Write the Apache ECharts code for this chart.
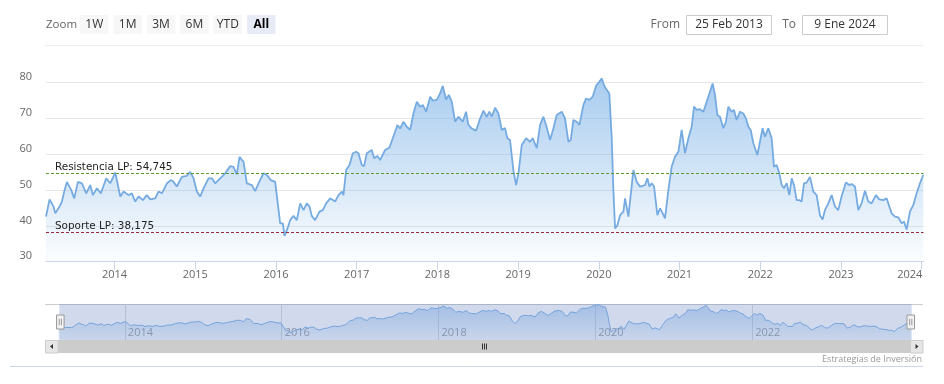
<!DOCTYPE html>
<html>
<head>
<meta charset="utf-8">
<script src="https://cdn.jsdelivr.net/npm/echarts/dist/echarts.min.js"></script>
<style>
  html, body { margin: 0; padding: 0; background: #ffffff; }
  #chart { width: 944px; height: 384px; }
</style>
</head>
<body>
<div id="chart"></div>
<script>
// ---- Data (dates as decimal years, prices) ----
const dates = [
  2013.151, 2013.195, 2013.245, 2013.266, 2013.319, 2013.348, 2013.377, 2013.410, 2013.464, 2013.501,
  2013.546, 2013.596, 2013.650, 2013.699, 2013.732, 2013.782, 2013.831, 2013.897, 2013.947, 2014.009,
  2014.071, 2014.112, 2014.174, 2014.215, 2014.256, 2014.298, 2014.351, 2014.401, 2014.442, 2014.504,
  2014.545, 2014.587, 2014.649, 2014.698, 2014.731, 2014.772, 2014.834, 2014.896, 2014.937, 2014.979,
  2015.020, 2015.061, 2015.103, 2015.164, 2015.206, 2015.247, 2015.309, 2015.371, 2015.433, 2015.474,
  2015.515, 2015.548, 2015.598, 2015.639, 2015.701, 2015.742, 2015.784, 2015.846, 2015.887, 2015.936,
  2015.990, 2016.052, 2016.085, 2016.106, 2016.143, 2016.176, 2016.217, 2016.258, 2016.300, 2016.341,
  2016.382, 2016.415, 2016.444, 2016.485, 2016.506, 2016.539, 2016.580, 2016.622, 2016.671, 2016.733,
  2016.774, 2016.816, 2016.836, 2016.869, 2016.911, 2016.952, 2016.993, 2017.022, 2017.063, 2017.092,
  2017.125, 2017.187, 2017.216, 2017.257, 2017.290, 2017.352, 2017.406, 2017.447, 2017.505, 2017.538,
  2017.579, 2017.621, 2017.662, 2017.703, 2017.745, 2017.786, 2017.819, 2017.860, 2017.910, 2017.943,
  2017.992, 2018.033, 2018.066, 2018.108, 2018.141, 2018.178, 2018.219, 2018.260, 2018.314, 2018.355,
  2018.384, 2018.426, 2018.479, 2018.529, 2018.570, 2018.611, 2018.644, 2018.673, 2018.715, 2018.756,
  2018.797, 2018.838, 2018.867, 2018.900, 2018.941, 2018.975, 2019.004, 2019.045, 2019.098, 2019.148,
  2019.181, 2019.231, 2019.272, 2019.313, 2019.346, 2019.396, 2019.437, 2019.478, 2019.540, 2019.581,
  2019.623, 2019.652, 2019.685, 2019.726, 2019.759, 2019.809, 2019.842, 2019.883, 2019.924, 2019.965,
  2020.007, 2020.036, 2020.064, 2020.097, 2020.130, 2020.159, 2020.180, 2020.201, 2020.230, 2020.263,
  2020.304, 2020.325, 2020.366, 2020.428, 2020.469, 2020.510, 2020.572, 2020.601, 2020.626, 2020.655,
  2020.684, 2020.725, 2020.758, 2020.791, 2020.820, 2020.861, 2020.902, 2020.943, 2020.985, 2021.026,
  2021.067, 2021.109, 2021.150, 2021.179, 2021.212, 2021.253, 2021.295, 2021.336, 2021.377, 2021.410,
  2021.439, 2021.468, 2021.501, 2021.542, 2021.575, 2021.604, 2021.645, 2021.674, 2021.707, 2021.749,
  2021.790, 2021.823, 2021.852, 2021.881, 2021.914, 2021.963, 2021.996, 2022.029, 2022.058, 2022.100,
  2022.141, 2022.170, 2022.203, 2022.236, 2022.265, 2022.293, 2022.327, 2022.360, 2022.389, 2022.418,
  2022.450, 2022.483, 2022.512, 2022.541, 2022.574, 2022.615, 2022.657, 2022.698, 2022.739, 2022.772,
  2022.801, 2022.843, 2022.884, 2022.925, 2022.966, 2023.007, 2023.061, 2023.103, 2023.132, 2023.173,
  2023.214, 2023.255, 2023.297, 2023.338, 2023.379, 2023.433, 2023.474, 2023.524, 2023.565, 2023.627,
  2023.668, 2023.709, 2023.751, 2023.780, 2023.813, 2023.854, 2023.895, 2023.937, 2023.978, 2024.020
];
const prices = [
  42.6, 47.4, 45.4, 43.5, 45.4, 46.8, 49.6, 52.3, 50.0, 47.7,
  52.3, 51.9, 49.1, 51.4, 48.6, 50.5, 49.1, 53.3, 51.9, 54.9,
  48.2, 49.6, 48.6, 49.1, 46.8, 48.2, 47.2, 48.6, 47.4, 47.7,
  49.6, 49.1, 51.9, 52.8, 52.3, 51.0, 53.7, 54.0, 55.1, 53.3,
  49.6, 48.2, 50.5, 53.3, 53.3, 51.9, 53.3, 54.7, 56.7, 56.5,
  54.4, 59.3, 57.9, 51.9, 51.4, 49.7, 51.9, 54.7, 54.2, 52.8,
  52.3, 40.7, 40.7, 37.2, 39.3, 41.6, 42.8, 41.6, 46.3, 44.4,
  46.3, 45.4, 42.8, 41.6, 41.2, 44.0, 44.4, 46.3, 47.7, 46.8,
  48.6, 49.6, 48.6, 55.6, 57.0, 60.3, 60.7, 60.3, 57.0, 56.7,
  60.3, 61.2, 58.9, 59.5, 58.4, 61.2, 61.9, 64.5, 68.2, 67.2,
  69.1, 67.7, 66.8, 71.4, 74.7, 73.3, 73.8, 71.9, 76.1, 75.0,
  75.2, 77.0, 79.1, 75.3, 76.6, 74.7, 69.1, 70.5, 69.1, 71.9,
  68.2, 67.2, 66.6, 70.0, 72.2, 70.5, 71.9, 70.5, 73.0, 71.4,
  66.8, 67.3, 64.5, 64.0, 55.6, 51.4, 54.7, 62.6, 64.5, 63.5,
  64.5, 61.7, 68.2, 70.5, 68.2, 64.0, 67.3, 71.0, 71.9, 70.0,
  63.5, 64.0, 69.6, 69.1, 68.2, 73.8, 75.6, 75.2, 76.1, 79.1,
  80.3, 81.2, 79.3, 78.0, 77.0, 64.9, 50.0, 39.3, 40.2, 43.0,
  44.0, 47.7, 42.6, 55.6, 52.3, 51.0, 51.4, 53.3, 51.0, 51.9,
  51.0, 43.0, 44.9, 43.5, 42.1, 50.0, 56.5, 59.3, 60.7, 66.8,
  60.3, 64.5, 67.7, 73.3, 72.4, 72.6, 71.9, 74.7, 77.5, 79.8,
  76.6, 71.0, 70.5, 67.3, 69.1, 73.3, 71.9, 72.4, 69.6, 71.9,
  71.4, 70.0, 67.7, 66.8, 63.1, 59.8, 63.5, 67.3, 64.9, 67.3,
  64.5, 56.5, 57.0, 54.7, 51.4, 50.5, 51.9, 48.6, 53.3, 51.4,
  47.2, 47.2, 46.8, 51.9, 52.1, 53.7, 49.6, 48.6, 43.0, 41.8,
  44.4, 46.3, 48.6, 45.4, 44.4, 48.2, 52.1, 51.4, 51.7, 51.0,
  44.4, 46.3, 49.8, 46.8, 46.3, 48.6, 47.4, 47.2, 47.7, 43.5,
  42.6, 42.4, 40.7, 41.2, 39.0, 44.0, 45.8, 49.1, 51.9, 54.3
];

const xStart = 2013.151;          // 25 Feb 2013
const xEnd = 2024.022;            // 9 Jan 2024
const yearTicks = [2014, 2015, 2016, 2017, 2018, 2019, 2020, 2021, 2022, 2023, 2024];
const navYearTicks = [2014, 2016, 2018, 2020, 2022];

const resistance = 54.745;
const support = 38.175;
const resistanceLabel = 'Resistencia LP: 54,745';
const supportLabel = 'Soporte LP: 38,175';

const zoomLabel = 'Zoom';
const rangeButtons = ['1W', '1M', '3M', '6M', 'YTD', 'All'];
const fromLabel = 'From';
const toLabel = 'To';
const fromValue = '25 Feb 2013';
const toValue = '9 Ene 2024';
const creditText = 'Estrategias de Inversión';

// ---- Chart ----
const FONT = "'Open Sans', 'DejaVu Sans', sans-serif";
const LABEL_FONT = "'DejaVu Sans', sans-serif";
const seriesData = dates.map((d, i) => [d, prices[i]]);
const lastYear = yearTicks[yearTicks.length - 1];

const chart = echarts.init(document.getElementById('chart'), null, { renderer: 'canvas' });

const graphics = [];
// Range selector
graphics.push({ type: 'text', x: 46, y: 24.5, style: { text: zoomLabel, fill: '#666666', font: "11.5px " + FONT, verticalAlign: 'middle' } });
rangeButtons.forEach((b, i) => {
  const x = 80 + i * 33.4;
  const active = b === 'All';
  graphics.push({ type: 'rect', shape: { x: x, y: 15, width: 28.5, height: 19, r: 1 },
    style: { fill: active ? '#e6ebf5' : '#f7f7f7' } });
  graphics.push({ type: 'text', x: x + 14.25, y: 24.5,
    style: { text: b, fill: active ? '#000000' : '#333333', font: (active ? 'bold ' : '') + "12px " + FONT,
             align: 'center', verticalAlign: 'middle' } });
});
// From / To inputs
graphics.push({ type: 'text', x: 680, y: 24.5, style: { text: fromLabel, fill: '#666666', font: "12px " + FONT, align: 'right', verticalAlign: 'middle' } });
graphics.push({ type: 'rect', shape: { x: 686.5, y: 15.5, width: 85, height: 19 }, style: { fill: '#ffffff', stroke: '#cccccc', lineWidth: 1 } });
graphics.push({ type: 'text', x: 729, y: 25, style: { text: fromValue, fill: '#333333', font: "12px " + FONT, align: 'center', verticalAlign: 'middle' } });
graphics.push({ type: 'text', x: 796, y: 24.5, style: { text: toLabel, fill: '#666666', font: "12px " + FONT, align: 'right', verticalAlign: 'middle' } });
graphics.push({ type: 'rect', shape: { x: 802.5, y: 15.5, width: 85, height: 19 }, style: { fill: '#ffffff', stroke: '#cccccc', lineWidth: 1 } });
graphics.push({ type: 'text', x: 845, y: 25, style: { text: toValue, fill: '#333333', font: "12px " + FONT, align: 'center', verticalAlign: 'middle' } });
// Separator under range selector
graphics.push({ type: 'line', shape: { x1: 45, y1: 45.5, x2: 923, y2: 45.5 }, style: { stroke: '#ececec', lineWidth: 1 } });
// Navigator outline (top)
graphics.push({ type: 'line', shape: { x1: 45, y1: 304.5, x2: 923, y2: 304.5 }, style: { stroke: '#cccccc', lineWidth: 1 } });
// Scrollbar
graphics.push({ type: 'rect', shape: { x: 45, y: 340, width: 878, height: 13 }, style: { fill: '#f2f2f2' } });
graphics.push({ type: 'rect', shape: { x: 58.3, y: 340, width: 852.4, height: 13 }, style: { fill: '#cccccc' } });
graphics.push({ type: 'rect', shape: { x: 45.5, y: 340.5, width: 12.5, height: 12.5 }, style: { fill: '#e6e6e6', stroke: '#cccccc', lineWidth: 1 } });
graphics.push({ type: 'polygon', shape: { points: [[50, 346.5], [53, 344], [53, 349]] }, style: { fill: '#333333' } });
graphics.push({ type: 'rect', shape: { x: 910.5, y: 340.5, width: 12.5, height: 12.5 }, style: { fill: '#e6e6e6', stroke: '#cccccc', lineWidth: 1 } });
graphics.push({ type: 'polygon', shape: { points: [[918.5, 346.5], [915.5, 344], [915.5, 349]] }, style: { fill: '#333333' } });
[-2, 0, 2].forEach(dx => {
  graphics.push({ type: 'line', shape: { x1: 484.5 + dx, y1: 343.5, x2: 484.5 + dx, y2: 349.5 }, style: { stroke: '#333333', lineWidth: 1 } });
});
// Credit + bottom rule
graphics.push({ type: 'text', x: 922, y: 359.5, style: { text: creditText, fill: '#999999', font: "9px " + FONT, align: 'right', verticalAlign: 'middle' } });
graphics.push({ type: 'line', shape: { x1: 10, y1: 366.5, x2: 923, y2: 366.5 }, style: { stroke: '#ccd6eb', lineWidth: 1 } });

const markLabel = (text) => ({
  show: true, formatter: text, position: 'insideStartTop',
  color: '#222222', fontSize: 10.4, fontFamily: LABEL_FONT, distance: [9, 1]
});

const option = {
  animation: false,
  backgroundColor: '#ffffff',
  textStyle: { fontFamily: FONT },
  grid: [
    { left: 46, right: 20.5, top: 64.8, height: 196.9, outerBoundsMode: 'none', containLabel: false },
    { left: 58.3, right: 33.3, top: 304, height: 36, outerBoundsMode: 'none', containLabel: false }
  ],
  xAxis: [
    {
      type: 'value', gridIndex: 0, min: xStart, max: xEnd,
      axisLine: { show: true, lineStyle: { color: '#ccd6eb', width: 1 } },
      axisTick: { show: true, customValues: yearTicks, length: 8, lineStyle: { color: '#ccd6eb' } },
      axisLabel: { show: true, customValues: yearTicks,
                   formatter: v => Math.round(v) === lastYear ? '{last|' + Math.round(v) + '}' : String(Math.round(v)),
                   rich: { last: { padding: [0, 24, 0, 0], color: '#666666', fontSize: 11, fontFamily: FONT } },
                   color: '#666666', fontSize: 11, fontFamily: FONT, margin: 8 },
      splitLine: { show: false }
    },
    {
      type: 'value', gridIndex: 1, min: xStart, max: xEnd,
      axisLine: { show: false },
      axisTick: { show: true, inside: true, customValues: navYearTicks, length: 36, lineStyle: { color: '#d8d8d8' } },
      axisLabel: { show: true, inside: true, customValues: navYearTicks, formatter: v => String(Math.round(v)),
                   color: '#999999', fontSize: 11, fontFamily: FONT, margin: 2, align: 'left', padding: [0, 0, 0, 3] },
      splitLine: { show: false }
    }
  ],
  yAxis: [
    {
      type: 'value', gridIndex: 0, min: 30, max: 85, interval: 10,
      axisLine: { show: false }, axisTick: { show: false },
      axisLabel: { color: '#666666', fontSize: 11, fontFamily: FONT, margin: 14, showMaxLabel: false,
                   verticalAlign: 'bottom' },
      splitLine: { show: true, showMaxLine: false, lineStyle: { color: '#e6e6e6', width: 1 } }
    },
    {
      type: 'value', gridIndex: 1, min: 26, max: 82, show: false,
      splitLine: { show: false }
    }
  ],
  dataZoom: [{
    type: 'slider', xAxisIndex: [0], filterMode: 'none', start: 0, end: 100,
    left: 58.3, right: 33.3, top: 304, height: 36,
    showDataShadow: false, showDetail: false, brushSelect: false,
    backgroundColor: 'rgba(0,0,0,0)', borderColor: 'rgba(0,0,0,0)',
    fillerColor: 'rgba(102,133,194,0.3)',
    handleIcon: 'path://M0.5,0.5 L7.5,0.5 L7.5,13.5 L0.5,13.5 Z M3,4 L3,10 M5,4 L5,10',
    handleSize: 14,
    handleStyle: { color: '#f2f2f2', borderColor: '#999999', borderWidth: 1 },
    moveHandleSize: 0,
    moveHandleStyle: { opacity: 0 },
    emphasis: { handleStyle: { borderColor: '#999999' }, moveHandleStyle: { opacity: 0 } }
  }],
  series: [
    {
      type: 'line', xAxisIndex: 0, yAxisIndex: 0, data: seriesData,
      showSymbol: false, symbol: 'none', smooth: false,
      lineStyle: { color: '#75abe0', width: 1.8 },
      itemStyle: { color: '#75abe0' },
      areaStyle: {
        color: new echarts.graphic.LinearGradient(0, 0, 0, 1, [
          { offset: 0, color: 'rgba(124,178,232,0.95)' },
          { offset: 1, color: 'rgba(124,178,232,0.04)' }
        ])
      },
      markLine: {
        silent: true, symbol: ['none', 'none'], animation: false,
        data: [
          { yAxis: resistance, lineStyle: { color: '#5b9a2e', type: [3, 2], width: 1 },
            label: markLabel(resistanceLabel) },
          { yAxis: support, lineStyle: { color: '#9a2a3a', type: [3, 2], width: 1 },
            label: markLabel(supportLabel) }
        ]
      }
    },
    {
      type: 'line', xAxisIndex: 1, yAxisIndex: 1, data: seriesData,
      showSymbol: false, symbol: 'none', silent: true,
      lineStyle: { color: '#7cb0e6', width: 1 },
      areaStyle: {
        color: new echarts.graphic.LinearGradient(0, 0, 0, 1, [
          { offset: 0, color: 'rgba(124,176,230,0.7)' },
          { offset: 1, color: 'rgba(124,176,230,0.12)' }
        ])
      }
    }
  ],
  graphic: graphics
};

chart.setOption(option);
</script>
</body>
</html>
